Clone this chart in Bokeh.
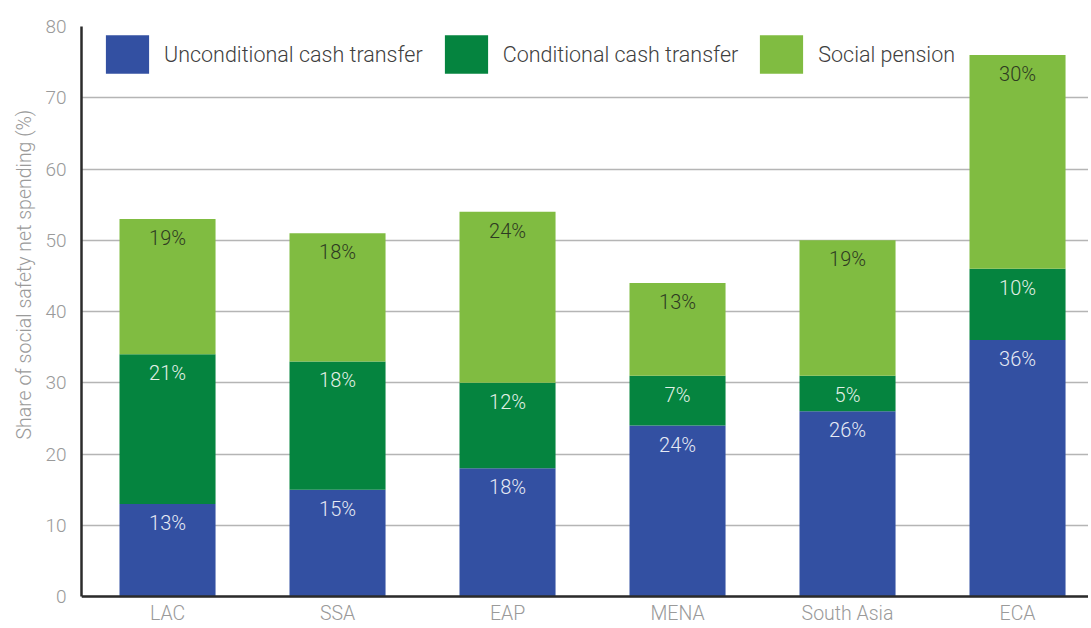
from bokeh.plotting import figure
from bokeh.models import ColumnDataSource, Range1d, FixedTicker, Legend, Span, Title
from bokeh.core.properties import value
from bokeh.embed import file_html
from bokeh.resources import INLINE

regions = ["LAC", "SSA", "EAP", "MENA", "South Asia", "ECA"]
unconditional = [13, 15, 18, 24, 26, 36]
conditional = [21, 18, 12, 7, 5, 10]
social_pension = [19, 18, 24, 13, 19, 30]
series_names = ["Unconditional cash transfer", "Conditional cash transfer", "Social pension"]
colors = ["#3350A2", "#05843F", "#80BC41"]
label_colors = ["#E6EAF4", "#E2F0E6", "#2E3A22"]
y_ticks = [0, 10, 20, 30, 40, 50, 60, 70, 80]
y_title = "Share of social safety net spending (%)"

FONT = "'Roboto Light', Roboto"

W, H = 1088, 626
BL, BT = 81, 26
PX_PER_UNIT = 570 / 80
frame_h = H - BT
y_min = -(frame_h - 570) / PX_PER_UNIT
x_start = -0.506
x_end = x_start + (W - BL) / 170

xs = list(range(len(regions)))
src = ColumnDataSource(dict(x=xs, u=unconditional, c=conditional, s=social_pension))

p = figure(width=W, height=H, output_backend="svg", toolbar_location=None,
           x_range=Range1d(x_start, x_end), y_range=Range1d(y_min, 80),
           min_border_left=BL, min_border_right=0, min_border_top=BT, min_border_bottom=0)
p.outline_line_color = None
p.background_fill_color = "white"

renderers = p.vbar_stack(["u", "c", "s"], x="x", width=0.565, source=src,
                         color=colors, line_color=None)

# segment labels
lx, ly, lt, lc = [], [], [], []
for i in xs:
    bottom = 0
    for k, vals in enumerate([unconditional, conditional, social_pension]):
        top = bottom + vals[i]
        lx.append(i)
        ly.append(top)
        lt.append(f"{vals[i]}%")
        lc.append(label_colors[k])
        bottom = top
lsrc = ColumnDataSource(dict(x=lx, y=ly, t=lt, c=lc))
p.text(x="x", y="y", text="t", source=lsrc, text_color="c", text_align="center",
       text_baseline="middle", y_offset=19, text_font=value(FONT), text_font_size="20px")

# category labels under the baseline
csrc = ColumnDataSource(dict(x=xs, y=[0] * len(xs), t=regions))
p.text(x="x", y="y", text="t", source=csrc, text_color="#9a9a9a", text_align="center",
       text_baseline="middle", y_offset=17, text_font=value(FONT), text_font_size="19.5px")

# baseline
p.add_layout(Span(location=0, dimension="width", line_color="#2b2b2b", line_width=2.5))

p.xaxis.visible = False
ax = p.yaxis[0]
ax.bounds = (0, 80)
ax.axis_line_color = "#2b2b2b"
ax.axis_line_width = 2.5
ax.major_tick_line_color = None
ax.minor_tick_line_color = None
ax.major_label_text_font = FONT
ax.major_label_text_font_size = "19px"
ax.major_label_text_color = "#9a9a9a"
ax.ticker = FixedTicker(ticks=y_ticks)
ax.major_label_standoff = 9

# y-axis title as a side title
p.add_layout(Title(text=y_title, align="left", offset=187, standoff=14,
                   text_font=FONT, text_font_size="19.5px", text_font_style="normal",
                   text_color="#9a9a9a"), "left")

p.xgrid.grid_line_color = None
p.ygrid.grid_line_color = "#b5b5b5"
p.ygrid.grid_line_width = 1.5

legend = Legend(items=[(n, [r]) for n, r in zip(series_names, renderers)],
                orientation="horizontal", location=(19, frame_h - 52),
                glyph_width=54, glyph_height=48, label_standoff=10, spacing=16,
                padding=0, margin=0, border_line_color=None,
                background_fill_alpha=0,
                label_text_font=FONT, label_text_font_size="21.5px",
                label_text_color="#3f3f3f", label_height=47)
p.add_layout(legend)

open("out.html", "w").write(file_html(p, INLINE))
